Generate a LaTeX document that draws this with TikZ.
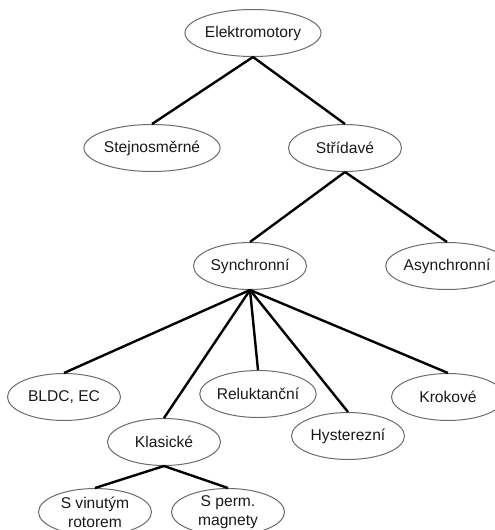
\documentclass[tikz,border=0pt]{standalone}
\usepackage{fontspec}
\setmainfont{Liberation Sans}
\usepackage{xcolor}
\usetikzlibrary{shapes.geometric}
\definecolor{emgray}{rgb}{0.42,0.42,0.42}
\definecolor{emtext}{rgb}{0.1,0.1,0.1}

\begin{document}
\begin{tikzpicture}[
  x=0.5pt, y=-0.5pt,
  font=\fontsize{7.8}{9.5}\selectfont,
  kind/.style={ellipse, draw=emgray, line width=0.5pt, text=emtext,
               minimum width=56.5pt, minimum height=23.5pt, inner sep=0pt, align=center},
  link/.style={black, line width=1.2pt}
]
\useasboundingbox (0,0) rectangle (494,530);

% --- top levels ---
\node[kind] (elektro) at (253,33) {Elektromotory};
\node[kind] (stejno) at (152,148) {Stejnosměrné};
\node[kind] (strid) at (345,148) {Střídavé};
\node[kind] (sync) at (250,266) {Synchronní};
\node[kind] (async) at (447,266) {Asynchronní};

% --- synchronous motors ---
\node[kind] (bldc) at (64,397) {BLDC, EC};
\node[kind] (klas) at (164,442) {Klasické};
\node[kind] (relu) at (258,394) {Reluktanční};
\node[kind] (hyst) at (348,436) {Hysterezní};
\node[kind] (krok) at (448,397) {Krokové};

% --- classic ones ---
\node[kind] (vinut) at (95,512) {S vinutým\\rotorem};
\node[kind] (perm) at (228,512) {S perm.\\magnety};

% edges
\foreach \c in {stejno,strid} { \draw[link] (elektro.south) -- (\c.north); }
\foreach \c in {sync,async} { \draw[link] (strid.south) -- (\c.north); }
\foreach \c in {bldc,klas,relu,hyst,krok} { \draw[link] (sync.south) -- (\c.north); }
\foreach \c in {vinut,perm} { \draw[link] (klas.south) -- (\c.north); }

\end{tikzpicture}
\end{document}
